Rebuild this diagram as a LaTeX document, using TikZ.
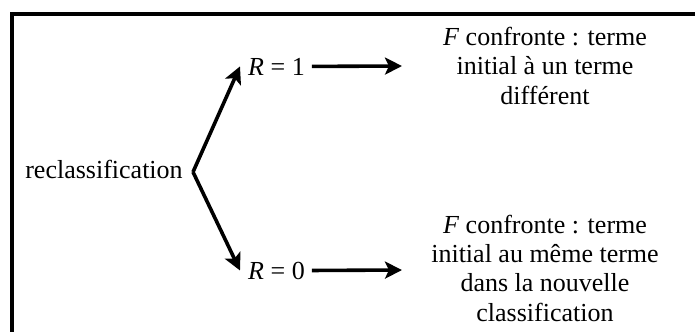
\documentclass[tikz,border=0pt]{standalone}
\usepackage{fontspec}
\setmainfont{Liberation Serif}
\usetikzlibrary{arrows.meta}
\begin{document}
\begin{tikzpicture}[x=1pt,y=-1pt,
  lbl/.style={inner sep=0pt, font=\fontsize{26}{29.3}\selectfont},
  blk/.style={lbl, align=center},
  arr/.style={line width=3.6pt, -{Stealth[length=17pt,width=17pt,inset=4pt]}},
  frame/.style={line width=4pt}]
\useasboundingbox (0,0) rectangle (695,332);
\draw[frame] (695,14) -- (12,14) -- (12,332);
\node[lbl, anchor=base] (rec) at (104,178) {reclassification};
\node[lbl, anchor=base west] (r1) at (248,75) {\textit{R} = 1};
\node[lbl, anchor=base west] (r0) at (248,279) {\textit{R} = 0};
\node[blk, anchor=base] (top) at (545,104) {\textit{F} confronte : terme\\initial à un terme\\différent};
\node[blk, anchor=base] (bot) at (545,321) {\textit{F} confronte : terme\\initial au même terme\\dans la nouvelle\\classification};
\coordinate (apex) at (193,172);
\coordinate (e1) at (402,66);
\coordinate (e0) at (402,270);
\draw[arr, line join=miter] (apex) -- ([xshift=-8pt]r1.west);
\draw[arr] (apex) -- ([xshift=-8pt]r0.west);
\draw[arr] ([xshift=7pt]r1.east) -- (e1);
\draw[arr] ([xshift=7pt]r0.east) -- (e0);
\end{tikzpicture}
\end{document}
